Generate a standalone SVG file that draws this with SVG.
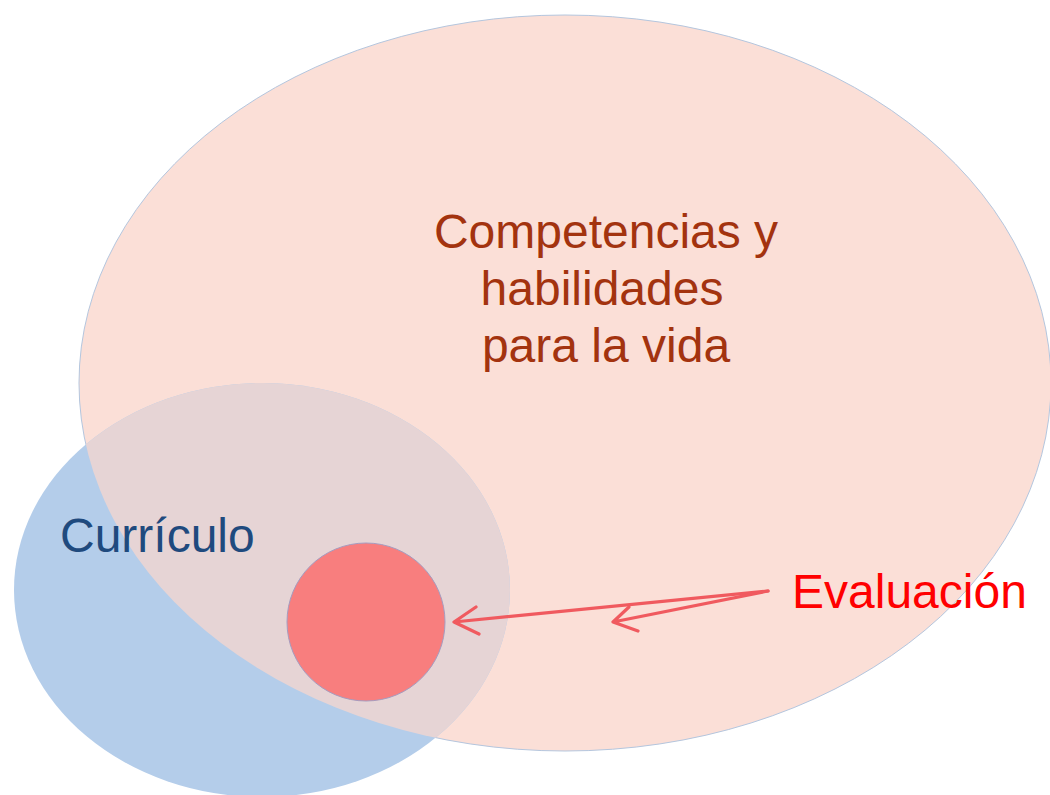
<svg xmlns="http://www.w3.org/2000/svg" width="1050" height="795" viewBox="0 0 1050 795">
<style>
.lbl{font-family:"Liberation Sans",Arial,sans-serif;font-size:48px}
.arr{fill:none;stroke:#f05a5f;stroke-width:3.2;stroke-linecap:round;stroke-linejoin:round}
</style>
<defs>
<clipPath id="bigclip"><ellipse cx="565" cy="383" rx="486" ry="368"/></clipPath>
</defs>
<rect width="1050" height="795" fill="#ffffff"/>
<g id="competencias">
<ellipse cx="565" cy="383" rx="486" ry="368" fill="#fbdfd7" stroke="#b4c6de" stroke-width="1"/>
</g>
<g id="curriculo">
<ellipse cx="262" cy="590" rx="248" ry="207" fill="#b4cdea"/>
<ellipse cx="262" cy="590" rx="248" ry="207" fill="#e6d4d5" clip-path="url(#bigclip)"/>
<text class="lbl" x="60" y="552" fill="#1f4a7e">Currículo</text>
</g>
<g id="competencias-label">
<text class="lbl" fill="#a3330f" text-anchor="middle"><tspan x="606" y="248">Competencias y</tspan><tspan x="602" y="305">habilidades</tspan><tspan x="606" y="362">para la vida</tspan></text>
</g>
<g id="evaluacion">
<circle cx="366" cy="622" r="79" fill="#f87e7e" stroke="#a59cc0" stroke-width="1"/>
<text class="lbl" x="792" y="608" fill="#ff0000">Evaluación</text>
</g>
<g id="connectors">
<path class="arr" d="M768,591 L454,622 M476,607 L454,622 L479,634"/>
<path class="arr" d="M768,591 L613,622 M629,607 L613,622 L638,631"/>
</g>
</svg>
